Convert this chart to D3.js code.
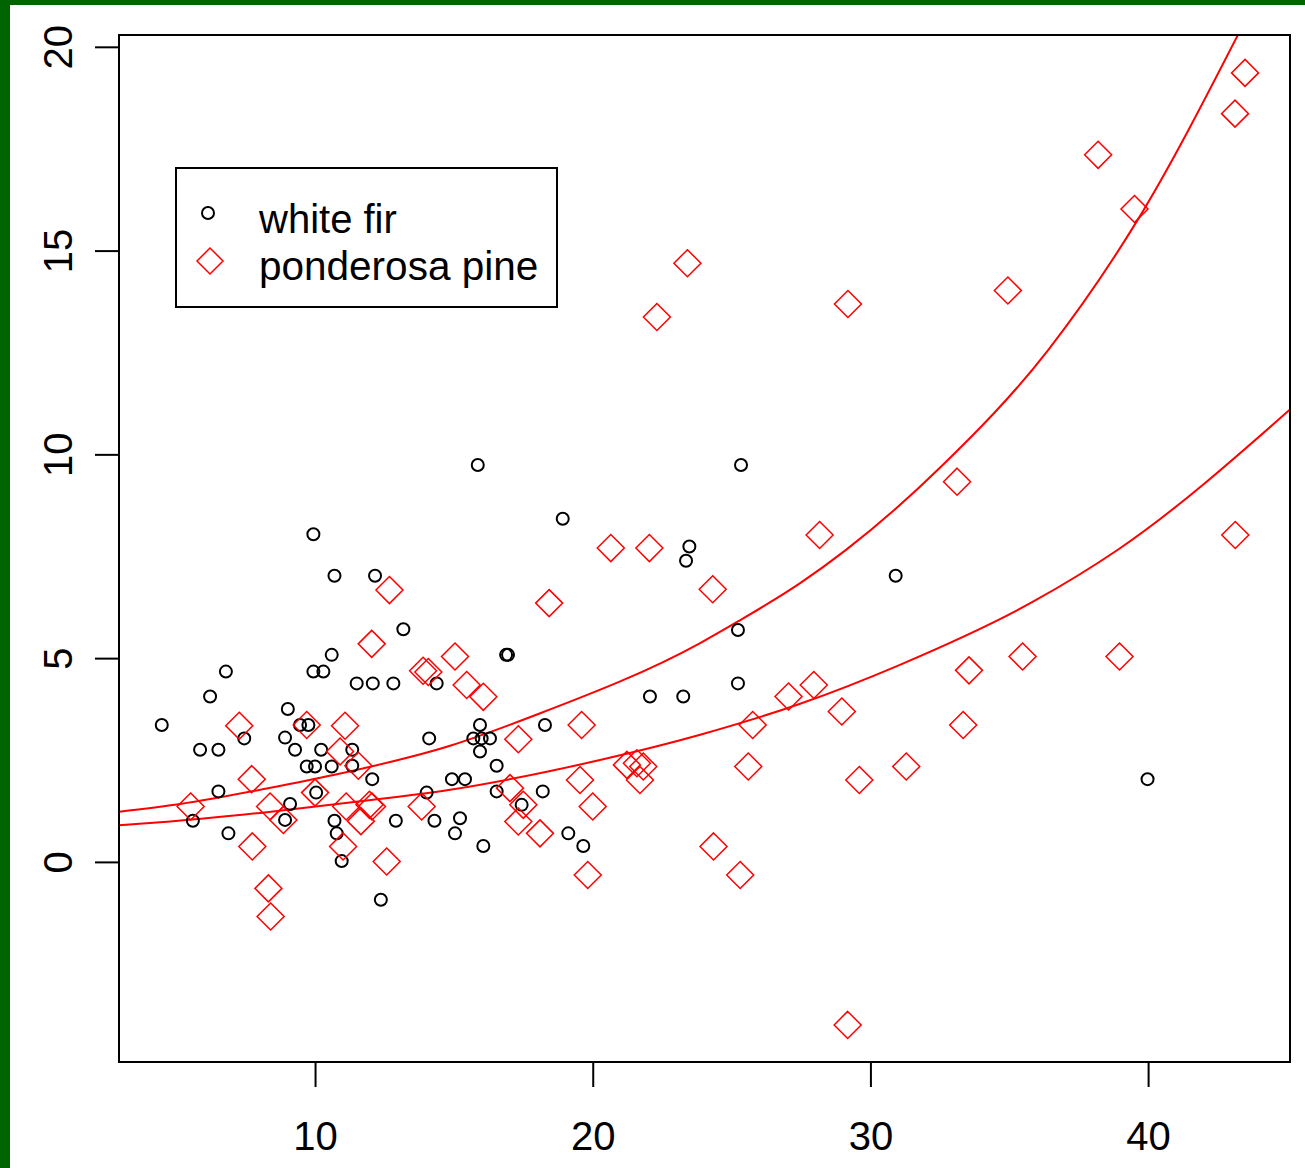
<!DOCTYPE html>
<html>
<head>
<meta charset="utf-8">
<script src="https://cdn.jsdelivr.net/npm/d3@7"></script>
<style>
  html, body { margin: 0; padding: 0; background: #ffffff; }
  svg { display: block; }
  text { font-family: "Liberation Sans", Arial, sans-serif; }
</style>
</head>
<body>
<svg id="chart" width="1305" height="1168"></svg>
<script>
// ---- Data ----
const xTicks = [10, 20, 30, 40];
const yTicks = [0, 5, 10, 15, 20];

const seriesNames = ["white fir", "ponderosa pine"];

const firX = [9.94,10.70,12.16,13.18,10.60,9.94,10.30,6.79,6.22,4.48,
              11.50,12.08,12.82,14.38,9.02,8.92,9.28,9.46,9.76,5.86,
              6.52,7.45,10.22,11.34,9.70,10.00,10.60,11.34,12.06,6.52,
              10.04,14.11,14.02,14.93,15.40,9.10,8.92,5.60,6.88,10.70,
              10.78,10.96,12.91,14.30,15.22,15.04,12.37,16.06,15.94,15.70,
              16.00,16.30,15.94,16.54,16.54,17.44,18.20,18.28,19.12,19.66,
              15.86,18.92,16.88,16.95,22.06,23.26,23.48,23.36,25.23,25.23,
              25.34,30.91,39.98];
const firY = [8.04,7.02,7.02,5.71,5.08,4.67,4.67,4.67,4.06,3.36,
              4.38,4.38,4.38,4.38,3.75,3.05,2.75,3.36,3.36,2.75,
              2.75,3.03,2.75,2.75,2.34,2.34,2.34,2.36,2.03,1.73,
              1.70,3.03,1.70,2.03,2.03,1.42,1.03,1.01,0.70,1.01,
              0.70,0.02,1.01,1.01,1.07,0.70,-0.93,0.39,3.36,3.03,
              3.03,3.03,2.71,2.36,1.73,1.40,1.73,3.36,0.70,0.39,
              9.74,8.42,5.08,5.08,4.06,4.06,7.74,7.39,5.69,4.38,
              9.74,7.02,2.03];

const pineX = [12.68,12.04,13.89,14.08,15.04,9.70,7.27,11.08,10.90,11.56,
               7.72,5.52,8.38,10.00,8.86,11.12,11.96,12.05,11.65,13.84,
               7.74,11.01,12.58,8.32,8.40,16.06,15.46,20.65,22.04,18.43,
               17.32,19.60,17.02,17.50,17.32,18.10,19.54,20.00,19.82,21.23,
               21.59,21.70,21.82,24.32,27.05,25.76,25.60,24.35,25.31,27.96,
               28.97,29.60,31.29,33.55,35.48,38.97,33.34,29.18,23.41,22.31,
               29.19,34.95,39.51,33.12,28.17,43.14,38.20,43.49,43.13];
const pineY = [6.67,5.35,4.69,4.66,5.04,3.36,3.34,3.34,2.71,2.36,
               2.03,1.36,1.36,1.70,1.03,1.36,1.40,1.36,1.00,1.36,
               0.38,0.38,0.01,-0.65,-1.34,4.05,4.34,7.70,7.70,6.35,
               3.01,3.36,1.81,1.40,0.99,0.70,2.01,1.36,-0.32,2.38,
               2.42,2.01,2.34,6.69,4.06,3.36,2.34,0.38,-0.32,4.34,
               3.69,2.01,2.34,4.70,5.04,5.04,3.36,-4.00,14.69,13.37,
               13.69,14.02,16.02,9.33,8.02,8.02,17.35,19.36,18.36];

// Fitted curves
const upperCurveX = [2.94,5.14,8.26,10.66,14.86,17.85,23.87,25.23,27.47,29.11,32.53,36.40,39.63,43.24];
const upperCurveY = [1.23,1.42,1.80,2.13,2.85,3.58,5.37,5.90,6.84,7.65,9.69,12.56,15.76,20.30];
const lowerCurveX = [2.94,4.42,8.26,10.66,14.86,20.26,23.87,27.47,31.04,35.87,38.91,45.11];
const lowerCurveY = [0.90,0.97,1.22,1.41,1.77,2.50,3.12,3.88,4.83,6.39,7.66,11.10];

// ---- Drawing ----
const svg = d3.select("#chart");
const W = 1305, H = 1168;
const plot = { left: 119, right: 1290, top: 35, bottom: 1062 };

svg.append("rect").attr("x", 0).attr("y", 0).attr("width", W).attr("height", H).attr("fill", "#ffffff");
// green frame pieces (top and left)
svg.append("rect").attr("x", 0).attr("y", 0).attr("width", W).attr("height", 5).attr("fill", "#006400");
svg.append("rect").attr("x", 0).attr("y", 0).attr("width", 10).attr("height", H).attr("fill", "#006400");

const x = d3.scaleLinear().domain([2.94, 45.11]).range([plot.left, plot.right]);
const y = d3.scaleLinear().domain([-4.91, 20.29]).range([plot.bottom, plot.top]);

svg.append("clipPath").attr("id", "plotclip")
  .append("rect").attr("x", plot.left).attr("y", plot.top)
  .attr("width", plot.right - plot.left).attr("height", plot.bottom - plot.top);

// axes
const xAxis = d3.axisBottom(x).tickValues(xTicks).tickSize(25).tickPadding(35).tickFormat(d3.format("d"));
const gx = svg.append("g").attr("transform", `translate(0,${plot.bottom})`).call(xAxis);
gx.select(".domain").remove();
gx.selectAll(".tick line").attr("stroke", "#000").attr("stroke-width", 2);
gx.selectAll(".tick text").attr("font-size", 40).attr("fill", "#000")
  .attr("font-family", "'Liberation Sans', Arial, sans-serif");

const yAxis = d3.axisLeft(y).tickValues(yTicks).tickSize(24).tickFormat(d3.format("d"));
const gy = svg.append("g").attr("transform", `translate(${plot.left},0)`).call(yAxis);
gy.select(".domain").remove();
gy.selectAll(".tick line").attr("stroke", "#000").attr("stroke-width", 2);
gy.selectAll(".tick text")
  .attr("x", null).attr("dy", null)
  .attr("text-anchor", "middle")
  .attr("transform", `translate(${72 - plot.left},0) rotate(-90)`)
  .attr("font-size", 40).attr("fill", "#000")
  .attr("font-family", "'Liberation Sans', Arial, sans-serif");

// curves
const upperData = upperCurveX.map((v, i) => [v, upperCurveY[i]]);
const lowerData = lowerCurveX.map((v, i) => [v, lowerCurveY[i]]);
const line = d3.line().x(d => x(d[0])).y(d => y(d[1])).curve(d3.curveMonotoneX);
const gc = svg.append("g").attr("clip-path", "url(#plotclip)");
[upperData, lowerData].forEach(dat => {
  gc.append("path").datum(dat).attr("d", line)
    .attr("fill", "none").attr("stroke", "#ff0000").attr("stroke-width", 2);
});

// points
const fir = firX.map((v, i) => [v, firY[i]]);
const pine = pineX.map((v, i) => [v, pineY[i]]);
const D = 13.5;
const diamondPath = (cx, cy, r) => `M${cx},${cy - r}L${cx + r},${cy}L${cx},${cy + r}L${cx - r},${cy}Z`;

const gp = svg.append("g");
gp.selectAll("circle.fir").data(fir).join("circle").attr("class", "fir")
  .attr("cx", d => x(d[0])).attr("cy", d => y(d[1])).attr("r", 6)
  .attr("fill", "none").attr("stroke", "#000").attr("stroke-width", 2);
gp.selectAll("path.pine").data(pine).join("path").attr("class", "pine")
  .attr("d", d => diamondPath(x(d[0]), y(d[1]), D))
  .attr("fill", "none").attr("stroke", "#ff0000").attr("stroke-width", 1.5);

// plot box
svg.append("rect").attr("x", plot.left).attr("y", plot.top)
  .attr("width", plot.right - plot.left).attr("height", plot.bottom - plot.top)
  .attr("fill", "none").attr("stroke", "#000").attr("stroke-width", 2);

// legend
const lg = svg.append("g");
lg.append("rect").attr("x", 176).attr("y", 168).attr("width", 381).attr("height", 139)
  .attr("fill", "#fff").attr("stroke", "#000").attr("stroke-width", 2);
lg.append("circle").attr("cx", 208).attr("cy", 213).attr("r", 6)
  .attr("fill", "none").attr("stroke", "#000").attr("stroke-width", 2);
lg.append("path").attr("d", diamondPath(210, 261, 13))
  .attr("fill", "none").attr("stroke", "#ff0000").attr("stroke-width", 1.5);
lg.append("text").attr("x", 259).attr("y", 233).attr("font-size", 40).attr("fill", "#000").text(seriesNames[0]);
lg.append("text").attr("x", 259).attr("y", 280).attr("font-size", 40.5).attr("fill", "#000").text(seriesNames[1]);
</script>
</body>
</html>
